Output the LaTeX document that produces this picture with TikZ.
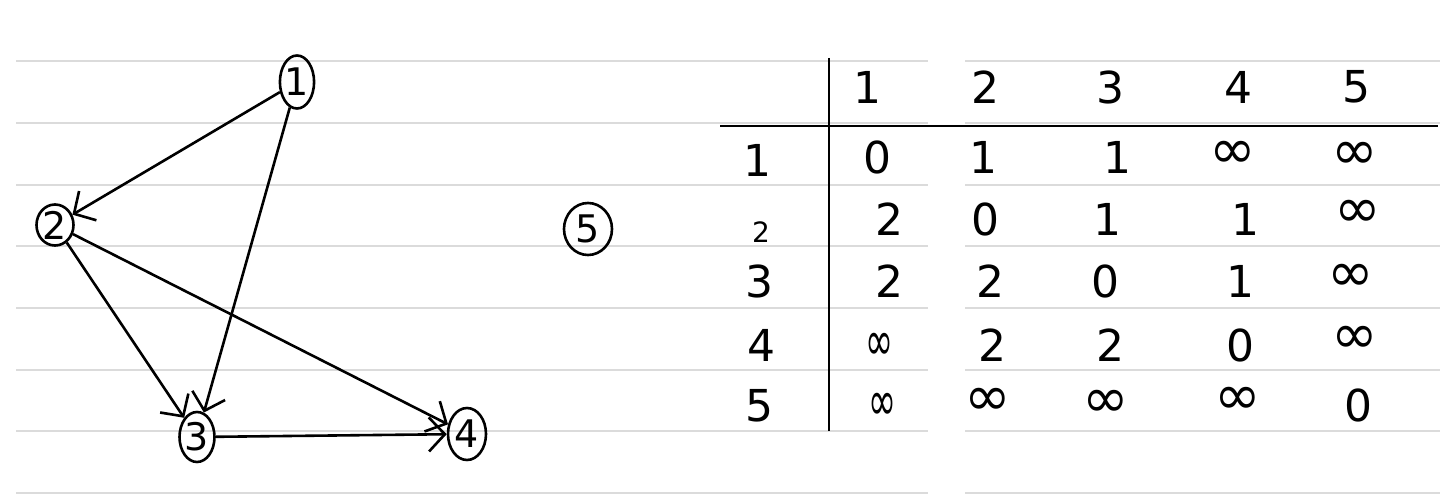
\documentclass[tikz,border=0pt]{standalone}
\usepackage{fontspec}
\setmainfont{DejaVu Sans}
\usetikzlibrary{shapes.geometric,arrows.meta}
\tikzset{
  rule/.style={draw=black!14,line width=1.6pt},
  vtx/.style={ellipse,draw,line width=2.6pt,inner sep=0pt,font=\fontsize{38}{42}\selectfont},
  edge/.style={line width=2.6pt,-{Straight Barb[length=16pt,width=34pt,line width=2.6pt]}},
  cell/.style={inner sep=0pt,font=\fontsize{44}{48}\selectfont},
  inf/.style={inner sep=0pt,font=\fontsize{56}{60}\selectfont},
  small/.style={inner sep=0pt,font=\fontsize{28}{32}\selectfont},
}
\begin{document}
\begin{tikzpicture}[x=1pt,y=-1pt]
\useasboundingbox (0,0) rectangle (1440,503);
\foreach \y in {61,123,185,246,308,370,431,493}{
  \draw[rule] (16,\y) -- (928,\y);
  \draw[rule] (965,\y) -- (1440,\y);
}

\node[vtx,minimum width=30pt,minimum height=53pt] (n1) at (297,82) {1};
\node[vtx,minimum width=37pt,minimum height=41pt] (n2) at (55,225) {2};
\node[vtx,minimum width=35pt,minimum height=50pt] (n3) at (197,437) {3};
\node[vtx,minimum width=38pt,minimum height=52pt] (n4) at (467,434) {4};
\node[vtx,minimum width=48pt,minimum height=52pt] (n5) at (588,229) {5};

\draw[edge] (n1) -- (n2);
\draw[edge] (n1) -- (n3);
\draw[edge] (n2) -- (n3);
\draw[edge] (n2) -- (n4);
\draw[edge] (n3) -- (n4);

\coordinate (vtop) at (829,58);
\coordinate (vbot) at (829,431);
\coordinate (hleft) at (720,126);
\coordinate (hright) at (1438,126);
\draw[line width=2.6pt] (vtop) -- (vbot);
\draw[line width=2.6pt] (hleft) -- (hright);

\node[cell] (c1) at (867,87) {1};
\node[cell] (c2) at (985,87) {2};
\node[cell] (c3) at (1110,87) {3};
\node[cell] (c4) at (1238,87) {4};
\node[cell] (c5) at (1356,87) {5};

\node[cell] (r1) at (757,160) {1};
\node[small] (r2) at (761,232) {2};
\node[cell] (r3) at (759,281) {3};
\node[cell] (r4) at (761,345) {4};
\node[cell] (r5) at (759,406) {5};

\node[cell] (a11) at (877,157) {0};
\node[cell] (a12) at (983,157) {1};
\node[cell] (a13) at (1117,157) {1};
\node[inf] (a14) at (1233,155) {∞};
\node[inf] (a15) at (1355,156) {∞};

\node[cell] (a21) at (889,219) {2};
\node[cell] (a22) at (985,219) {0};
\node[cell] (a23) at (1107,219) {1};
\node[cell] (a24) at (1245,219) {1};
\node[inf] (a25) at (1358,214) {∞};

\node[cell] (a31) at (889,281) {2};
\node[cell] (a32) at (990,281) {2};
\node[cell] (a33) at (1105,281) {0};
\node[cell] (a34) at (1240,281) {1};
\node[inf] (a35) at (1351,278) {∞};

\node[inf,xscale=0.6] (a41) at (879,347) {∞};
\node[cell] (a42) at (992,345) {2};
\node[cell] (a43) at (1110,345) {2};
\node[cell] (a44) at (1240,345) {0};
\node[inf] (a45) at (1355,340) {∞};

\node[inf,xscale=0.6] (a51) at (882,407) {∞};
\node[inf] (a52) at (988,402) {∞};
\node[inf] (a53) at (1106,404) {∞};
\node[inf] (a54) at (1238,401) {∞};
\node[cell] (a55) at (1358,405) {0};
\end{tikzpicture}
\end{document}
